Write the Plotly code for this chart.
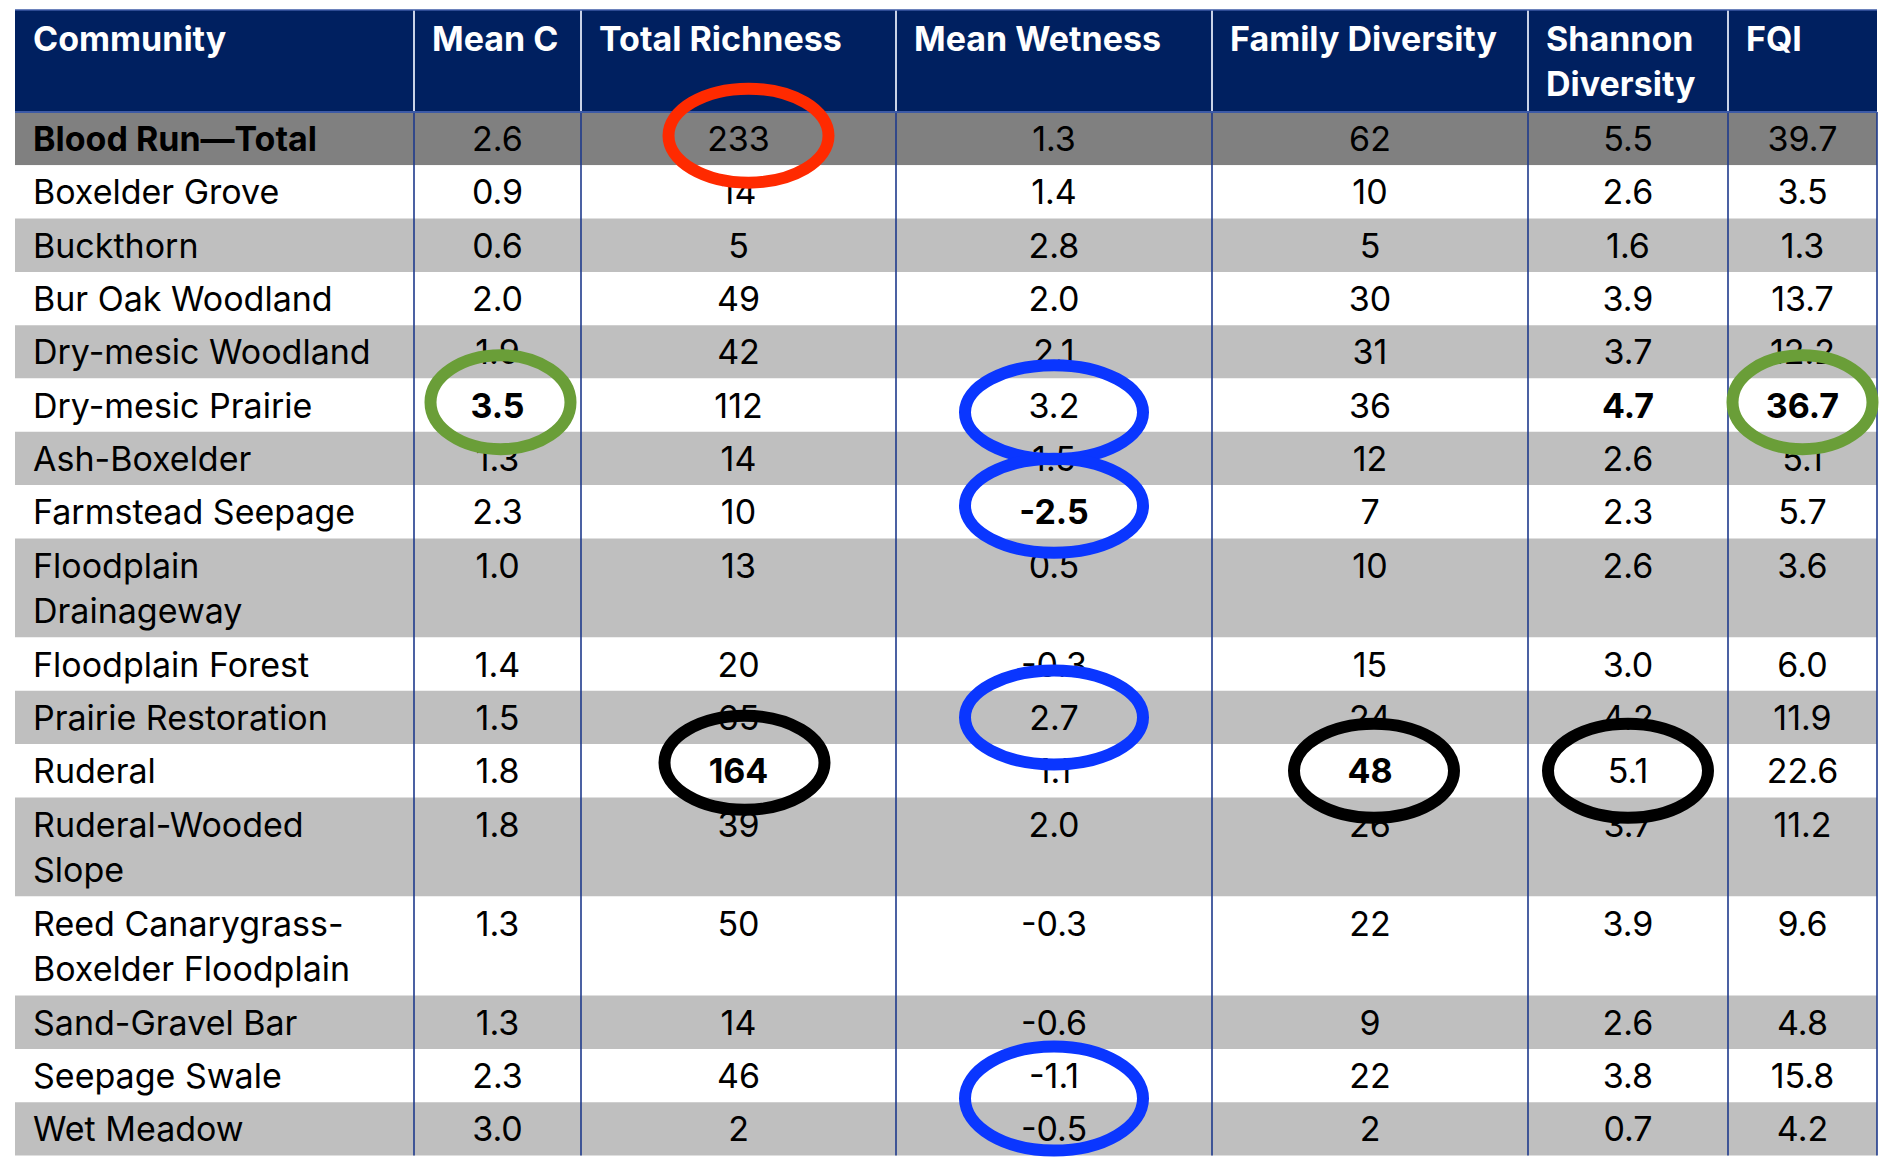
import plotly.graph_objects as go

# ---- table contents ----
headers = ["Community", "Mean C", "Total Richness", "Mean Wetness",
           "Family Diversity", "Shannon\nDiversity", "FQI"]
communities = ["Blood Run\u2014Total", "Boxelder Grove", "Buckthorn", "Bur Oak Woodland",
               "Dry-mesic Woodland", "Dry-mesic Prairie", "Ash-Boxelder",
               "Farmstead Seepage", "Floodplain\nDrainageway", "Floodplain Forest",
               "Prairie Restoration", "Ruderal", "Ruderal-Wooded\nSlope",
               "Reed Canarygrass-\nBoxelder Floodplain", "Sand-Gravel Bar",
               "Seepage Swale", "Wet Meadow"]
mean_c = [2.6, 0.9, 0.6, 2.0, 1.9, 3.5, 1.3, 2.3, 1.0, 1.4, 1.5, 1.8, 1.8, 1.3, 1.3, 2.3, 3.0]
total_richness = [233, 14, 5, 49, 42, 112, 14, 10, 13, 20, 65, 164, 39, 50, 14, 46, 2]
mean_wetness = [1.3, 1.4, 2.8, 2.0, 2.1, 3.2, 1.5, -2.5, 0.5, -0.3, 2.7, 1.1, 2.0, -0.3, -0.6, -1.1, -0.5]
family_diversity = [62, 10, 5, 30, 31, 36, 12, 7, 10, 15, 24, 48, 26, 22, 9, 22, 2]
shannon_diversity = [5.5, 2.6, 1.6, 3.9, 3.7, 4.7, 2.6, 2.3, 2.6, 3.0, 4.2, 5.1, 3.7, 3.9, 2.6, 3.8, 0.7]
fqi = [39.7, 3.5, 1.3, 13.7, 12.2, 36.7, 5.1, 5.7, 3.6, 6.0, 11.9, 22.6, 11.2, 9.6, 4.8, 15.8, 4.2]

# (row, column) of cells printed in bold
bold_cells = [(0, 0), (5, 1), (5, 5), (5, 6), (7, 3), (11, 2), (11, 4)]
# hand-drawn rings: (row, column, colour)
rings = [(0, 2, "red"), (5, 1, "green"), (5, 6, "green"),
         (5, 3, "blue"), (7, 3, "blue"), (10, 3, "blue"), (15, 3, "blue"),
         (11, 2, "black"), (11, 4, "black"), (11, 5, "black")]

# ---- look ----
FONT = "Inter"
FS = 34
NAVY = "#002060"
RULE = "#1F3A8C"
ring_color = {"red": "#FF2A00", "green": "#6A9E38", "blue": "#0A36FF", "black": "#000000"}
row_fill = ["#808080"] + ["#FFFFFF", "#BFBFBF"] * 8

W, H = 1898, 1174
# page body adds an 8px margin, so the table is drawn 8px up/left
LEFT, TOP = 7, 2
col_w = [399, 167, 315, 316, 316, 200, 149]
HEAD_H = 102
ROW_H = 53.3
LINE_H = 45.8
PAD = 21
TEXT_DY = 4

col_x = [LEFT]
for w in col_w:
    col_x.append(col_x[-1] + w)

row_y = [TOP + HEAD_H]
for name in communities:
    row_y.append(row_y[-1] + ROW_H + LINE_H * name.count("\n"))
BOTTOM = row_y[-1]

fmt = [None, "{:.1f}", "{:d}", "{:.1f}", "{:d}", "{:.1f}", "{:.1f}"]
columns = [communities, mean_c, total_richness, mean_wetness,
           family_diversity, shannon_diversity, fqi]

shapes = []
# header block
shapes.append(dict(type="rect", x0=col_x[0], x1=col_x[-1], y0=TOP, y1=TOP + HEAD_H,
                   fillcolor=NAVY, line_width=0, layer="below"))
# row fills
for i in range(len(communities)):
    shapes.append(dict(type="rect", x0=col_x[0], x1=col_x[-1], y0=row_y[i], y1=row_y[i + 1],
                       fillcolor=row_fill[i], line_width=0, layer="below"))
# column rules
for x in col_x[1:-1]:
    shapes.append(dict(type="line", x0=x, x1=x, y0=TOP, y1=TOP + HEAD_H,
                       line=dict(color="#C9D2E6", width=2), layer="below"))
for x in col_x[1:]:
    shapes.append(dict(type="line", x0=x, x1=x, y0=TOP + HEAD_H, y1=BOTTOM,
                       line=dict(color=RULE, width=1.6), layer="below"))
shapes.append(dict(type="line", x0=col_x[0], x1=col_x[-1], y0=TOP + HEAD_H, y1=TOP + HEAD_H,
                   line=dict(color="#3C5AA6", width=2), layer="below"))
shapes.append(dict(type="line", x0=col_x[0], x1=col_x[-1], y0=TOP, y1=TOP,
                   line=dict(color="#3C5AA6", width=1.5), layer="below"))

fig = go.Figure()

# header text
hx, hy, ht = [], [], []
for c, label in enumerate(headers):
    for k, part in enumerate(label.split("\n")):
        hx.append(col_x[c] + PAD - 3)
        hy.append(TOP + 28 + TEXT_DY + k * LINE_H)
        ht.append("<b>" + part + "</b>")
fig.add_trace(go.Scatter(x=hx, y=hy, text=ht, mode="text", textposition="middle right",
                         textfont=dict(family=FONT, size=FS, color="white"),
                         hoverinfo="skip", showlegend=False))

# body text
lx, ly, lt = [], [], []
cx, cy, ct = [], [], []
for r in range(len(communities)):
    for c in range(len(headers)):
        val = columns[c][r]
        txt = val if fmt[c] is None else fmt[c].format(val)
        for k, part in enumerate(txt.split("\n")):
            if (r, c) in bold_cells:
                part = "<b>" + part + "</b>"
            y = row_y[r] + ROW_H / 2 + TEXT_DY + k * LINE_H
            if c == 0:
                lx.append(col_x[c] + PAD - 3)
                ly.append(y)
                lt.append(part)
            else:
                cx.append((col_x[c] + col_x[c + 1]) / 2)
                cy.append(y)
                ct.append(part)
fig.add_trace(go.Scatter(x=lx, y=ly, text=lt, mode="text", textposition="middle right",
                         textfont=dict(family=FONT, size=FS, color="black"),
                         hoverinfo="skip", showlegend=False))
fig.add_trace(go.Scatter(x=cx, y=cy, text=ct, mode="text", textposition="middle center",
                         textfont=dict(family=FONT, size=FS, color="black"),
                         hoverinfo="skip", showlegend=False))

# rings drawn over the text
ring_dy = {(5, 3): 7, (7, 3): -6, (15, 3): 23, (11, 2): -8, (0, 2): -3, (5, 1): -3, (5, 6): -3}
ring_dx = {(0, 2): 10, (11, 2): 6, (5, 1): 3, (11, 4): 4}
for r, c, color in rings:
    mx = (col_x[c] + col_x[c + 1]) / 2 + ring_dx.get((r, c), 0)
    my = row_y[r] + ROW_H / 2 + ring_dy.get((r, c), 0)
    rx = 70 if c in (1, 6) else (89 if c == 3 else 80)
    ry = 52 if (r, c) == (15, 3) else 47
    shapes.append(dict(type="circle", x0=mx - rx, x1=mx + rx, y0=my - ry, y1=my + ry,
                       line=dict(color=ring_color[color], width=12),
                       fillcolor="rgba(0,0,0,0)", layer="above"))

fig.update_layout(
    width=W, height=H,
    margin=dict(l=0, r=0, t=0, b=0),
    paper_bgcolor="white", plot_bgcolor="white",
    xaxis=dict(range=[0, W], visible=False, fixedrange=True),
    yaxis=dict(range=[H, 0], visible=False, fixedrange=True),
    shapes=shapes,
    showlegend=False,
)

fig.write_html("out.html")
